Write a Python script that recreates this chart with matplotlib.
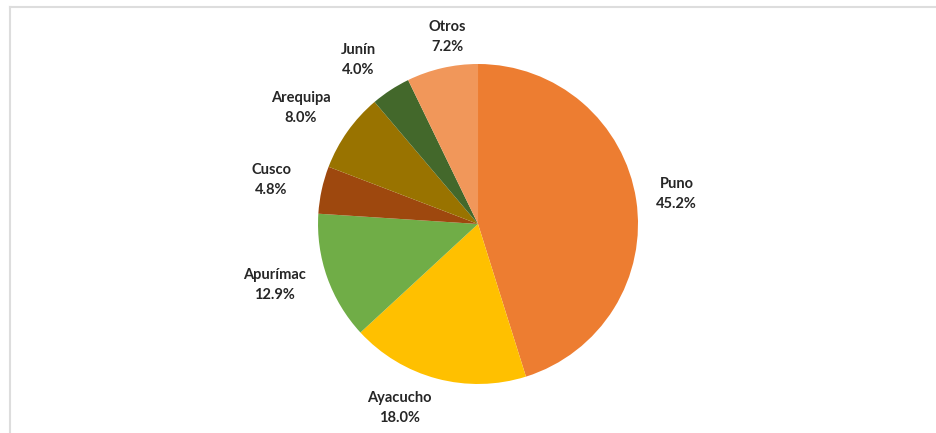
import matplotlib
matplotlib.use("Agg")
import matplotlib.pyplot as plt
from matplotlib.lines import Line2D

# regiones y participación (%)
regiones = ["Puno", "Ayacucho", "Apurímac", "Cusco", "Arequipa", "Junín", "Otros"]
valores = [45.2, 18.0, 12.9, 4.8, 8.0, 4.0, 7.2]
colores = ["#ED7D31", "#FFC000", "#70AD47", "#9E480E", "#997300", "#43682B", "#F1975A"]

# posición de cada etiqueta (en radios, respecto al centro), estilo "best fit" de Excel
pos_etiquetas = [(1.24, 0.19), (-0.49, -1.15), (-1.27, -0.38), (-1.29, 0.275),
                 (-1.11, 0.725), (-0.75, 1.025), (-0.19, 1.17)]

plt.rcParams["font.family"] = ["Lato", "DejaVu Sans"]

fig = plt.figure(figsize=(9.37, 4.33), dpi=100)
ax = fig.add_axes([0.3394, 0.1132, 0.3415, 0.739])

etiquetas = [f"{r}\n{v:.1f}%" for r, v in zip(regiones, valores)]
wedges, textos = ax.pie(valores, labels=etiquetas, colors=colores, startangle=90,
                        counterclock=False, radius=1,
                        wedgeprops=dict(linewidth=0),
                        textprops=dict(fontsize=10.5, fontweight="bold", color="#262626",
                                       linespacing=1.55))
for t, p in zip(textos, pos_etiquetas):
    t.set_position(p)
    t.set_horizontalalignment("center")
    t.set_verticalalignment("center")
ax.set_xlim(-1, 1)
ax.set_ylim(-1, 1)
ax.set_aspect("equal")

# marco gris (arriba e izquierda)
fig.add_artist(Line2D([10 / 937, 1], [1 - 7 / 433, 1 - 7 / 433], color="#DDDDDD", lw=1.5))
fig.add_artist(Line2D([10 / 937, 10 / 937], [0, 1 - 7 / 433], color="#DDDDDD", lw=1.5))

fig.savefig("out.png", dpi=100, facecolor="white")
